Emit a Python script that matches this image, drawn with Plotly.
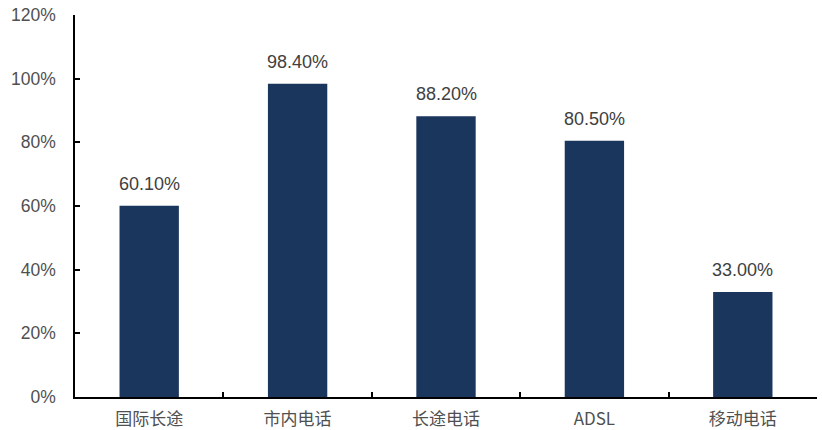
import plotly.graph_objects as go

categories = ["国际长途", "市内电话", "长途电话", "ADSL", "移动电话"]
shares = [60.1, 98.4, 88.2, 80.5, 33.0]
y_ticks = [0, 20, 40, 60, 80, 100, 120]
y_tick_labels = [f"{v}%" for v in y_ticks]

bar_color = "#1b365d"
text_color = "#505050"

fig = go.Figure()
fig.add_trace(go.Bar(
    x=categories,
    y=shares,
    marker=dict(color=bar_color, line=dict(width=0)),
    width=0.4,
    hoverinfo="skip",
))

for c, v in zip(categories, shares):
    fig.add_annotation(
        x=c, y=v, text=f"{v:.2f}%", showarrow=False,
        yanchor="bottom", yshift=10,
        font=dict(family="Liberation Sans, Arial", size=18, color="#404040"),
    )

fig.update_layout(
    width=822, height=430,
    margin=dict(l=75, r=5, t=15, b=33),
    paper_bgcolor="white", plot_bgcolor="white",
    showlegend=False,
)
fig.update_yaxes(
    range=[0, 120], tickvals=y_ticks, ticktext=y_tick_labels,
    showgrid=False, zeroline=False, automargin=False,
    showline=True, linecolor="black", linewidth=1.5,
    ticks="inside", ticklen=5, tickwidth=1.5, tickcolor="black",
    ticklabelstandoff=14,
    tickfont=dict(family="Liberation Sans, Arial", size=17.5, color=text_color),
)
fig.update_xaxes(
    range=[-0.5, 4.5], type="category",
    showgrid=False, zeroline=False, automargin=False,
    showline=True, linecolor="black", linewidth=1.5,
    ticks="inside", ticklen=5, tickwidth=1.5, tickcolor="black",
    tickson="boundaries",
    ticklabelstandoff=6,
    tickfont=dict(family="Noto Sans CJK SC, Liberation Sans", size=17, color=text_color),
)

fig.write_html("out.html")
